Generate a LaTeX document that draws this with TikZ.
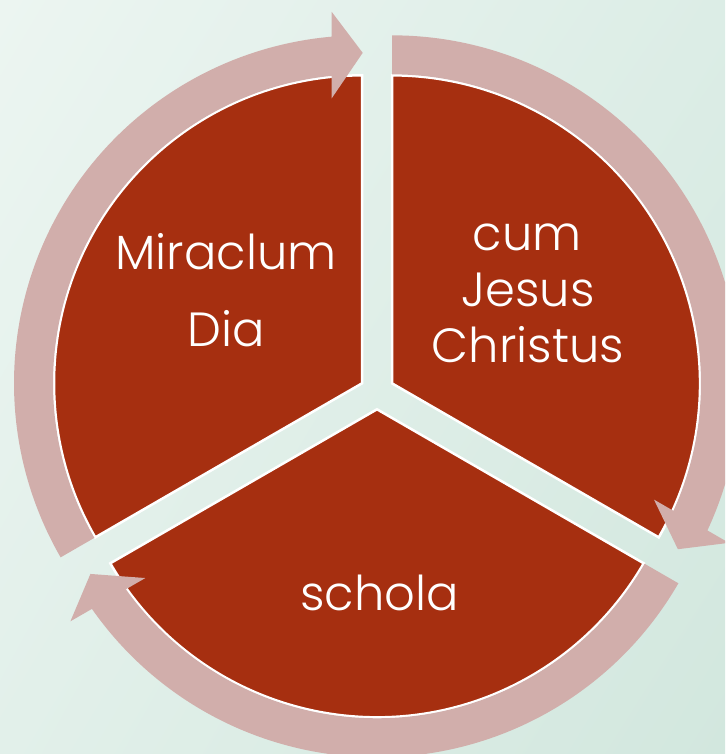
\documentclass[tikz,border=0pt]{standalone}
\usepackage{fontspec}
\setmainfont{Poppins Light}
\usetikzlibrary{shadings}
\definecolor{wedgered}{RGB}{166,47,16}
\definecolor{ringpink}{RGB}{209,174,171}
\definecolor{bgul}{RGB}{236,245,241}
\definecolor{bgur}{RGB}{220,237,230}
\definecolor{bgll}{RGB}{226,240,234}
\definecolor{bglr}{RGB}{210,231,222}
\tikzset{
  wedgeshape/.style={fill=wedgered, draw=white, line width=2.5pt, line join=miter},
  ringarrow/.style={fill=ringpink},
  label/.style={text=white, font=\fontsize{48}{58}\selectfont, inner sep=0pt, anchor=base},
}
\newcommand{\ringarrowpath}{%
  \path[ringarrow] (95.63:309) arc[start angle=95.63, end angle=210, radius=309]
    -- (210:348) arc[start angle=210, end angle=95.0, radius=348]
    -- (-30.3,371.5) -- (0.7,330.5) -- (-30.3,285) -- cycle;}
\begin{document}
\begin{tikzpicture}[x=1pt,y=1pt]
\useasboundingbox (0,0) rectangle (725,754);
\clip (0,0) rectangle (725,754);
\shade[upper left=bgul, upper right=bgur, lower left=bgll, lower right=bglr] (0,0) rectangle (725,754);
% apex coordinates of the three exploded wedges
\coordinate (A1) at (362,370.65);
\coordinate (A2) at (392,370.65);
\coordinate (A3) at (377,344.7);
% wedges
\draw[wedgeshape] (A1) -- ++(90:308) arc[start angle=90, end angle=210, radius=308] -- cycle;
\draw[wedgeshape] (A2) -- ++(-30:308) arc[start angle=-30, end angle=90, radius=308] -- cycle;
\draw[wedgeshape] (A3) -- ++(210:308) arc[start angle=210, end angle=330, radius=308] -- cycle;
% circular arrows
\begin{scope}[shift={(A1)}]\ringarrowpath\end{scope}
\begin{scope}[shift={(A2)}, rotate=-120]\ringarrowpath\end{scope}
\begin{scope}[shift={(A3)}, rotate=120]\ringarrowpath\end{scope}
% labels
\node[label] (t1a) at (226,484.7) {Miraclum};
\node[label] (t1b) at (226.5,407.3) {Dia};
\node[label] (t2a) at (527,503) {cum};
\node[label] (t2b) at (528,447.3) {Jesus};
\node[label] (t2c) at (528,391) {Christus};
\node[label] (t3) at (379.4,143) {schola};
\end{tikzpicture}
\end{document}
